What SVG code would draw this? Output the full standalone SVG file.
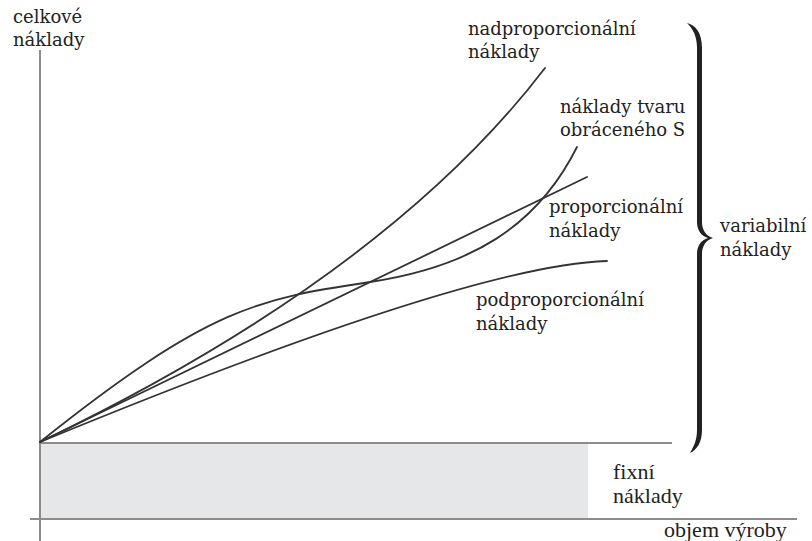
<svg xmlns="http://www.w3.org/2000/svg" width="812" height="541" viewBox="0 0 812 541">
<style>
.axis{stroke:#8c8c8c;stroke-width:2;fill:none}
.curve{stroke:#333;stroke-width:1.8;fill:none;stroke-linecap:round}
.lbl{font-family:"DejaVu Serif","Liberation Serif",serif;font-size:18px;fill:#222}
.lbl2{font-family:"Liberation Serif","Times New Roman",serif;font-size:22px;fill:#222}
</style>
<rect width="812" height="541" fill="#fff"/>
<g id="fixed-area">
<rect x="40" y="443" width="548" height="76" fill="#e6e7e9"/>
</g>
<g id="axes">
<line class="axis" x1="40" y1="50" x2="40" y2="541"/>
<line class="axis" x1="40" y1="443" x2="672" y2="443"/>
<line class="axis" x1="30" y1="519" x2="797" y2="519"/>
</g>
<g id="connectors">
<path id="nad" class="curve" d="M40,442 Q387,275 545,68"/>
<path id="s-shape" class="curve" d="M40,442 C210,306 260,298.5 370,282 C470,267 537,227 577,147"/>
<path id="prop" class="curve" d="M40,442 L587,177"/>
<path id="pod" class="curve" d="M40,442 Q470,265 607,261"/>
</g>
<g id="brace">
<path fill="#222" d="M687,23 C695,25 702,32 702,48 L702,222 C702,230 706,236 713,238 C706,240 702,246 702,254 L702,430 C702,442 697,450 690,453 C694,446 697,440 697,430 L697,254 C697,246 701,240 708,238 C701,236 697,230 697,222 L697,48 C697,36 693,29 687,23 Z"/>
</g>
<g id="label-celkove"><text class="lbl" x="13" y="23">celkové</text><text class="lbl" x="13" y="46">náklady</text></g>
<g id="label-nad"><text class="lbl" x="468" y="35">nadproporcionální</text><text class="lbl" x="468" y="58">náklady</text></g>
<g id="label-s"><text class="lbl" x="560" y="113">náklady tvaru</text><text class="lbl" x="560" y="136">obráceného S</text></g>
<g id="label-prop"><text class="lbl" x="549" y="213">proporcionální</text><text class="lbl" x="549" y="237">náklady</text></g>
<g id="label-pod"><text class="lbl" x="476" y="306">podproporcionální</text><text class="lbl" x="476" y="330">náklady</text></g>
<g id="label-var"><text class="lbl" x="720" y="232">variabilní</text><text class="lbl" x="720" y="256">náklady</text></g>
<g id="label-fix"><text class="lbl2" x="613" y="479">fixní</text><text class="lbl2" x="613" y="503">náklady</text></g>
<g id="label-objem"><text class="lbl2" x="664" y="537">objem výroby</text></g>
</svg>
